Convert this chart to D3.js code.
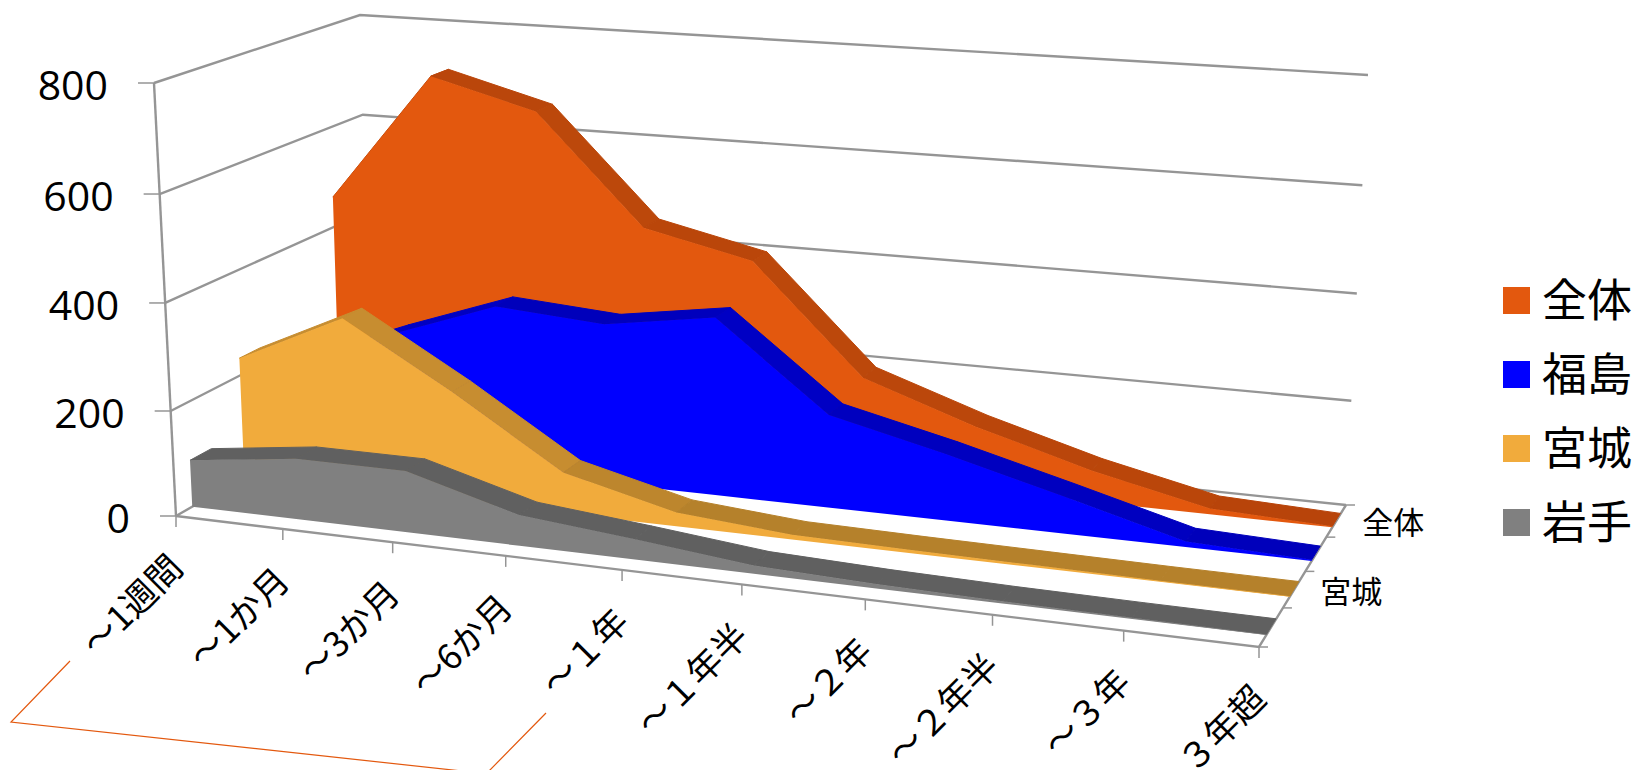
<!DOCTYPE html>
<html lang="ja">
<head>
<meta charset="utf-8">
<title>3D area chart</title>
<script src="https://cdn.jsdelivr.net/npm/d3@7"></script>
<style>
  html, body { margin: 0; padding: 0; background: #fff; }
  svg { display: block; }
  text { font-family: "Noto Sans CJK JP", "Noto Sans", sans-serif; fill: #000; }
  .num { font-family: "Open Sans", sans-serif; }
</style>
</head>
<body>
<svg id="chart" width="1642" height="770"></svg>
<script>
// Chart data
const categories = ["～1週間", "～1か月", "～3か月", "～6か月", "～１年", "～１年半", "～２年", "～２年半", "～３年", "３年超"];
const seriesNames = ["岩手", "宮城", "福島", "全体"];
const legendOrder = ["全体", "福島", "宮城", "岩手"];
const depthLabels = ["宮城", "全体"];
const yTicks = [0, 200, 400, 600, 800];

const iwate     = [89, 115, 115, 57, 37, 15, 8, 4, 2, 1];
const miyagi    = [233, 329, 210, 78, 26, 9, 6, 4, 2, 1];
const fukushima = [170, 250, 323, 308, 340, 177, 126, 69, 10, 2];
const zentai    = [460, 714, 659, 449, 402, 196, 122, 60, 11, 2];

const frontColors = ["#808080", "#F1AB3C", "#0000FF", "#E3580E"];
const flatShades  = ["#606060", "#B5812B", "#0000BB", "#B8440A"];
const steepShades = ["#606060", "#C78D30", "#0000C4", "#BC480B"];

const seriesValues = [iwate, miyagi, fukushima, zentai];

// Box corners on screen: floor and ceiling planes, front-left / front-right / back-right / back-left
const floorQuad = [[176, 516], [1259, 647], [1346, 505], [371, 404]];
const ceilQuad  = [[154, 83], [1284, 162], [1368, 75], [360, 15]];

// Projective map of the unit square onto a quad
function quadMap([[x0, y0], [x1, y1], [x2, y2], [x3, y3]]) {
  const dx1 = x1 - x2, dx2 = x3 - x2, sx = x0 - x1 + x2 - x3;
  const dy1 = y1 - y2, dy2 = y3 - y2, sy = y0 - y1 + y2 - y3;
  const den = dx1 * dy2 - dx2 * dy1;
  const g = (sx * dy2 - dx2 * sy) / den;
  const h = (dx1 * sy - sx * dy1) / den;
  const a = x1 - x0 + g * x1, b = x3 - x0 + h * x3;
  const d = y1 - y0 + g * y1, e = y3 - y0 + h * y3;
  return (u, v) => {
    const w = g * u + h * v + 1;
    return [(a * u + b * v + x0) / w, (d * u + e * v + y0) / w];
  };
}
const floorAt = quadMap(floorQuad);
const ceilAt  = quadMap(ceilQuad);

// Scales: category -> u, series -> v (depth), value -> height fraction
const uScale = d3.scalePoint().domain(categories).range([0, 1]);
const slotScale = d3.scaleBand().domain(seriesNames).range([0, 1]);
const bandScale = d3.scaleBand().domain(seriesNames).range([0, 1]).paddingInner(0.6).paddingOuter(0.3);
const hScale = d3.scaleLinear().domain(yTicks).range([0, 0.2425, 0.492, 0.7436, 1]);

function project(u, v, value) {
  const p0 = floorAt(u, v), p1 = ceilAt(u, v), t = hScale(value);
  return [p0[0] + (p1[0] - p0[0]) * t, p0[1] + (p1[1] - p0[1]) * t];
}

const svg = d3.select("#chart");
const gridColor = "#959595";
const pathOf = d3.line();

// Walls and floor
const grid = svg.append("g").attr("fill", "none").attr("stroke", gridColor).attr("stroke-width", 2.4);
yTicks.forEach(t => {
  grid.append("path").attr("d", pathOf([project(0, 0, t), project(0, 1, t), project(1, 1, t)]));
});
grid.append("path").attr("d", pathOf([project(0, 0, 0), project(0, 0, 800)]));
grid.append("path").attr("d", pathOf([project(0, 0, 0), project(1, 0, 0), project(1, 1, 0)]));

// Tick marks on the three axes
const ticks = svg.append("g").attr("stroke", gridColor).attr("stroke-width", 1.5);
yTicks.forEach(t => {
  const [x, y] = project(0, 0, t);
  ticks.append("line").attr("x1", x - 16).attr("x2", x).attr("y1", y).attr("y2", y);
});
categories.forEach(c => {
  const [x, y] = project(uScale(c), 0, 0);
  ticks.append("line").attr("x1", x).attr("x2", x).attr("y1", y).attr("y2", y + 11);
});
d3.range(0, seriesNames.length + 1).forEach(i => {
  const [x, y] = project(1, i / seriesNames.length, 0);
  ticks.append("line").attr("x1", x).attr("x2", x + 9).attr("y1", y).attr("y2", y);
});

// Area volumes, back to front
const areaFace = d3.area()
  .x0(d => project(d.u, d.v, 0)[0]).y0(d => project(d.u, d.v, 0)[1])
  .x1(d => project(d.u, d.v, d.value)[0]).y1(d => project(d.u, d.v, d.value)[1]);
const slopeMix = d3.scaleLinear().domain([20, 90]).range([0, 1]).clamp(true);

[...seriesNames].reverse().forEach(name => {
  const i = seriesNames.indexOf(name);
  const vFront = bandScale(name);
  const vBack = vFront + bandScale.bandwidth();
  const values = seriesValues[i];
  const g = svg.append("g");
  const shade = d3.interpolateRgb(flatShades[i], steepShades[i]);
  // Top ribbon, one quad per segment
  d3.pairs(values.map((value, k) => ({ u: uScale(categories[k]), value }))).forEach(([a, b]) => {
    const c = shade(slopeMix(Math.abs(a.value - b.value)));
    g.append("path")
      .attr("d", pathOf([
        project(a.u, vFront, a.value), project(b.u, vFront, b.value),
        project(b.u, vBack, b.value), project(a.u, vBack, a.value)
      ]) + "Z")
      .attr("fill", c).attr("stroke", c).attr("stroke-width", 1);
  });
  // Front face
  g.append("path")
    .datum(values.map((value, k) => ({ u: uScale(categories[k]), v: vFront, value })))
    .attr("d", areaFace)
    .attr("fill", frontColors[i]);
});

// Value axis labels
yTicks.forEach(t => {
  const [x, y] = project(0, 0, t);
  svg.append("text").attr("class", "num")
    .attr("x", x - 46).attr("y", y + 1)
    .attr("text-anchor", "end").attr("dominant-baseline", "central")
    .attr("font-size", 41).text(t);
});

// Category labels, rotated
categories.forEach(c => {
  const [x, y] = project(uScale(c), 0, 0);
  svg.append("text")
    .attr("transform", `translate(${x - 2},${y + 43}) rotate(-45)`)
    .attr("text-anchor", "end").attr("dominant-baseline", "central")
    .attr("font-size", 35).text(c);
});

// Depth axis labels
depthLabels.forEach(name => {
  const [x, y] = project(1, slotScale(name) + slotScale.bandwidth() / 2, 0);
  svg.append("text")
    .attr("x", x + 26).attr("y", y)
    .attr("dominant-baseline", "central")
    .attr("font-size", 31).text(name);
});

// Legend
const legend = svg.append("g");
const legendY = d3.scalePoint().domain(legendOrder).range([300.5, 522.5]);
legendOrder.forEach(name => {
  const y = legendY(name);
  legend.append("rect").attr("x", 1503).attr("y", y - 13.5).attr("width", 27).attr("height", 27)
    .attr("fill", frontColors[seriesNames.indexOf(name)]);
  legend.append("text").attr("x", 1542).attr("y", y - 3)
    .attr("dominant-baseline", "central").attr("font-size", 45).text(name);
});

// Stray drawing outline below the axis labels
svg.append("path")
  .attr("d", "M70,661 L11,722 L471,772 M546,713 L488,772")
  .attr("fill", "none").attr("stroke", "#E3580E").attr("stroke-width", 1.2);
</script>
</body>
</html>
